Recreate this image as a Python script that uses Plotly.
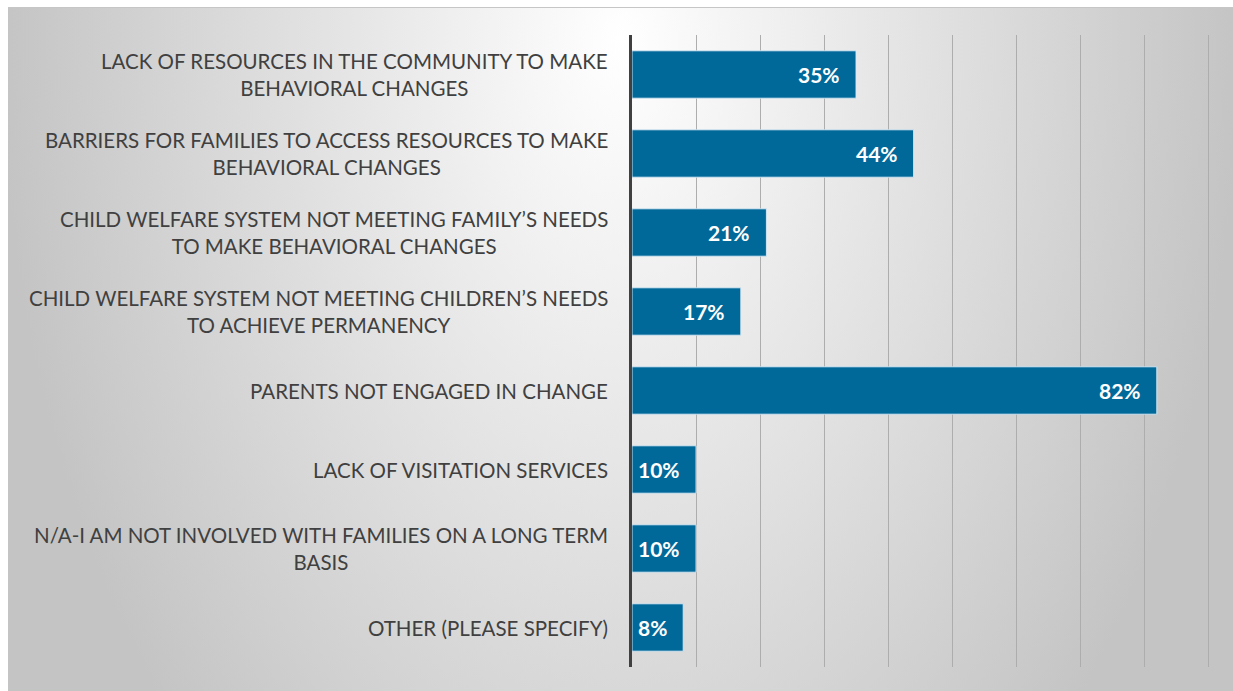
import base64
import plotly.graph_objects as go

categories = [
    "LACK OF RESOURCES IN THE COMMUNITY TO MAKE<br>BEHAVIORAL CHANGES",
    "BARRIERS FOR FAMILIES TO ACCESS RESOURCES TO MAKE<br>BEHAVIORAL CHANGES",
    "CHILD WELFARE SYSTEM NOT MEETING FAMILY\u2019S NEEDS<br>TO MAKE BEHAVIORAL CHANGES",
    "CHILD WELFARE SYSTEM NOT MEETING CHILDREN\u2019S NEEDS<br>TO ACHIEVE PERMANENCY",
    "PARENTS NOT ENGAGED IN CHANGE",
    "LACK OF VISITATION SERVICES",
    "N/A-I AM NOT INVOLVED WITH FAMILIES ON A LONG TERM<br>BASIS",
    "OTHER (PLEASE SPECIFY)",
]
percent = [35, 44, 21, 17, 82, 10, 10, 8]
grid_ticks = [0.1, 0.2, 0.3, 0.4, 0.5, 0.6, 0.7, 0.8, 0.9]

BAR = "#00699a"
TXT = "#404040"

W, H = 1233, 691
L, R, T, B = 632, 20, 35, 24
pw, ph = W - L - R, H - T - B
x_max = 0.9 * pw / 576  # 10% = 64px; keep 0.9 a few px inside so its gridline shows

# slide background (starts 8px in from the left, 7px from the top)
BX, BY = 8, 7
bw, bh = W - BX, H - BY
svg = (
    f"<svg xmlns='http://www.w3.org/2000/svg' width='{bw}' height='{bh}' "
    f"viewBox='0 0 {bw} {bh}' preserveAspectRatio='none'>"
    "<defs><radialGradient id='g' gradientUnits='userSpaceOnUse' cx='0' cy='0' r='1' "
    "gradientTransform='translate(612 32) scale(620 985)'>"
    "<stop offset='0' stop-color='#ffffff'/><stop offset='1' stop-color='#c4c4c4'/>"
    "</radialGradient></defs>"
    f"<rect width='{bw}' height='{bh}' fill='url(#g)'/>"
    f"<line x1='0' y1='0.5' x2='{bw}' y2='0.5' stroke='#c6c6c6' stroke-width='1'/></svg>"
)
bg_src = "data:image/svg+xml;base64," + base64.b64encode(svg.encode()).decode()

values = [p / 100 for p in percent]

fig = go.Figure(go.Bar(
    x=values,
    y=categories,
    orientation="h",
    marker=dict(color=BAR, line=dict(color="rgba(220,235,245,0.9)", width=1)),
    hoverinfo="skip",
))

annotations = []
for cat, v, p in zip(categories, values, percent):
    annotations.append(dict(
        x=0, xref="paper", y=cat, yref="y",
        text=cat, showarrow=False, xanchor="right", align="center",
        xshift=-22, font=dict(family="Lato", size=20.5, color=TXT),
    ))
    annotations.append(dict(
        x=v, xref="x", y=cat, yref="y",
        text=f"<b>{p}%</b>", showarrow=False, xanchor="right",
        xshift=-14, font=dict(family="Lato", size=21, color="white"),
    ))

fig.update_layout(
    width=W, height=H,
    margin=dict(l=L, r=R, t=T, b=B),
    paper_bgcolor="white",
    plot_bgcolor="rgba(0,0,0,0)",
    bargap=0.4,
    showlegend=False,
    annotations=annotations,
    images=[dict(
        source=bg_src, xref="paper", yref="paper",
        x=(BX - L) / pw, y=1 + (T - BY) / ph, sizex=bw / pw, sizey=bh / ph,
        xanchor="left", yanchor="top", sizing="stretch", layer="below",
    )],
    xaxis=dict(
        range=[0, x_max], tickvals=grid_ticks, showticklabels=False,
        showgrid=True, gridcolor="#adadad", gridwidth=1,
        zeroline=False, showline=False, fixedrange=True,
    ),
    yaxis=dict(
        autorange="reversed", showticklabels=False, showgrid=False,
        showline=True, linecolor="#404040", linewidth=3, zeroline=False,
        fixedrange=True,
    ),
)

fig.write_html(
    "out.html",
    config={"displayModeBar": False},
    post_script="document.body.style.margin='0';"
                "document.documentElement.style.overflow='hidden';",
)
